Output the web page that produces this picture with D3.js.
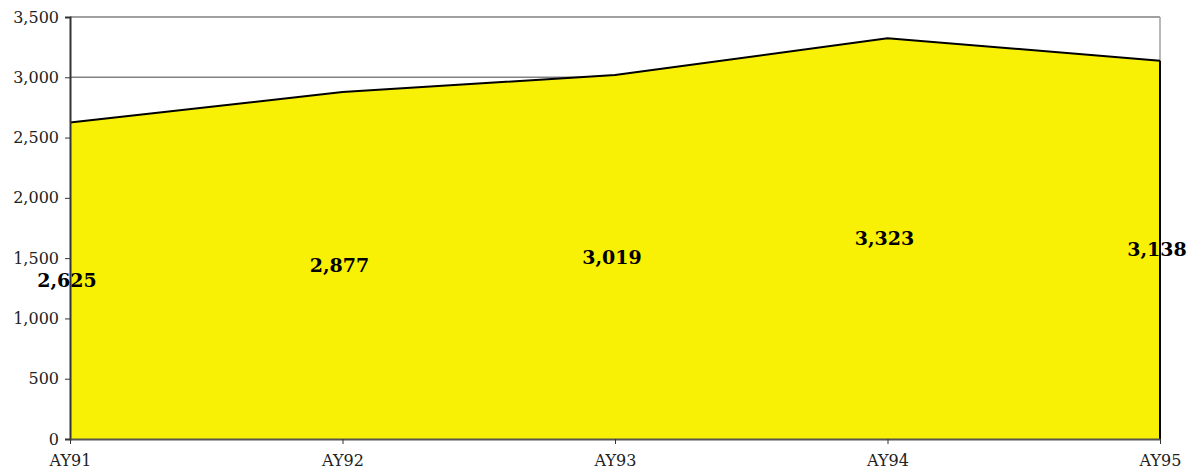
<!DOCTYPE html>
<html>
<head>
<meta charset="utf-8">
<script src="https://cdn.jsdelivr.net/npm/d3@7"></script>
<style>
  body { margin: 0; background: #fff; }
  text { font-family: "DejaVu Serif", serif; }
</style>
</head>
<body>
<div id="chart"></div>
<script>
// data
var years = ["AY91", "AY92", "AY93", "AY94", "AY95"];
var totals = [2625, 2877, 3019, 3323, 3138];
var yTicks = [0, 500, 1000, 1500, 2000, 2500, 3000, 3500];

// dimensions
var margin = {left: 70, right: 33, top: 17, bottom: 34};
var width = 1193 - margin.left - margin.right,
    height = 473 - margin.top - margin.bottom;

var svg = d3.select("#chart")
  .append("svg")
    .attr("width", 1193)
    .attr("height", 473)
  .append("g")
    .attr("transform", "translate(" + margin.left + "," + margin.top + ")");

var x = d3.scalePoint().domain(years).range([0, width]);
var y = d3.scaleLinear().domain([0, 3500]).range([height, 0]);

var rows = years.map(function(d, i) { return {year: d, value: totals[i]}; });

// gridlines
svg.append("g")
  .selectAll("line")
  .data(yTicks)
  .enter().append("line")
    .attr("x1", 0).attr("x2", width)
    .attr("y1", d => y(d)).attr("y2", d => y(d))
    .attr("stroke", "#808080")
    .attr("stroke-width", 1.5);

// right border
svg.append("line")
  .attr("x1", width).attr("x2", width)
  .attr("y1", 0).attr("y2", height)
  .attr("stroke", "#a0a0a0")
  .attr("stroke-width", 1.5);

// area
var area = d3.area()
  .x(d => x(d.year))
  .y0(y(0))
  .y1(d => y(d.value));

svg.append("path")
  .datum(rows)
  .attr("d", area)
  .attr("fill", "#f8f005");

var line = d3.line()
  .x(d => x(d.year))
  .y(d => y(d.value));

svg.append("path")
  .datum(rows)
  .attr("d", line)
  .attr("fill", "none")
  .attr("stroke", "#000")
  .attr("stroke-width", 2);

// right edge of area
svg.append("line")
  .attr("x1", x("AY95")).attr("x2", x("AY95"))
  .attr("y1", y(totals[4])).attr("y2", y(0))
  .attr("stroke", "#000")
  .attr("stroke-width", 2);

// axes
var yAxis = svg.append("g")
  .call(d3.axisLeft(y).tickValues(yTicks).tickSize(5).tickPadding(6)
    .tickFormat(d3.format(",")));
yAxis.select(".domain").attr("stroke", "#333").attr("stroke-width", 2);
yAxis.selectAll(".tick line").attr("stroke", "#333");
yAxis.selectAll("text")
  .style("font-size", "16px")
  .attr("fill", "#222")
  .style("font-family", "'DejaVu Serif', serif");

var xAxis = svg.append("g")
  .attr("transform", "translate(0," + height + ")")
  .call(d3.axisBottom(x).tickSize(5).tickPadding(11).tickSizeOuter(0));
xAxis.select(".domain").attr("stroke", "#555").attr("stroke-width", 2);
xAxis.selectAll(".tick line").attr("stroke", "#333");
xAxis.selectAll("text")
  .style("font-size", "16px")
  .attr("fill", "#222")
  .style("font-family", "'DejaVu Serif', serif");

// data labels
svg.append("g")
  .selectAll("text")
  .data(rows)
  .enter().append("text")
    .attr("x", d => x(d.year) - 3)
    .attr("y", d => y(d.value / 2))
    .attr("dy", "0.35em")
    .attr("text-anchor", "middle")
    .style("font-size", "19px")
    .style("font-weight", "bold")
    .style("font-family", "'DejaVu Serif', serif")
    .attr("fill", "#000")
    .text(d => d3.format(",")(d.value));
</script>
</body>
</html>
